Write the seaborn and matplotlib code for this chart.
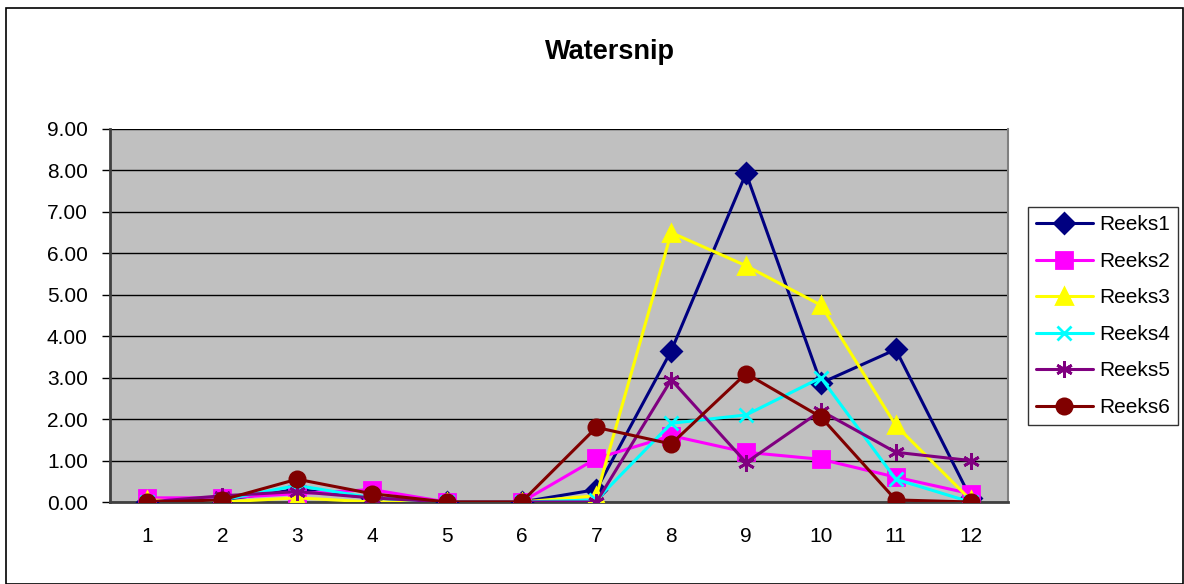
import numpy as np
import pandas as pd
import matplotlib
matplotlib.use('Agg')
import matplotlib.pyplot as plt
import seaborn as sns
from matplotlib.patches import Rectangle
from matplotlib.ticker import FormatStrFormatter, MultipleLocator

# Maanden / categorieen
months = list(range(1, 13))

reeks1 = [0.00, 0.05, 0.30, 0.10, 0.00, 0.00, 0.30, 3.65, 7.93, 2.87, 3.68, 0.10]
reeks2 = [0.10, 0.10, 0.20, 0.30, 0.00, 0.00, 1.05, 1.60, 1.20, 1.03, 0.60, 0.20]
reeks3 = [0.05, 0.00, 0.10, 0.00, 0.00, 0.00, 0.15, 6.50, 5.70, 4.75, 1.85, 0.05]
reeks4 = [0.00, 0.05, 0.40, 0.10, 0.00, 0.00, 0.05, 1.90, 2.10, 3.00, 0.55, 0.00]
reeks5 = [0.00, 0.15, 0.25, 0.10, 0.00, 0.00, 0.00, 2.95, 0.95, 2.20, 1.20, 1.00]
reeks6 = [0.00, 0.05, 0.55, 0.20, 0.00, 0.00, 1.80, 1.40, 3.10, 2.05, 0.05, 0.00]

series_names = ['Reeks1', 'Reeks2', 'Reeks3', 'Reeks4', 'Reeks5', 'Reeks6']
series_values = [reeks1, reeks2, reeks3, reeks4, reeks5, reeks6]
colors = ['#000080', '#FF00FF', '#FFFF00', '#00FFFF', '#800080', '#800000']
markers = ['D', 's', '^', 'x', (6, 2, 0), 'o']
msizes = [10, 11, 12, 10, 12, 11]

sns.set_style('white')
plt.rcParams['font.family'] = ['Liberation Sans', 'DejaVu Sans']
plt.rcParams['text.color'] = 'black'
plt.rcParams['xtick.color'] = 'black'
plt.rcParams['ytick.color'] = 'black'

fig = plt.figure(figsize=(11.84, 5.84), dpi=100)
ax = fig.add_axes([110 / 1184, 1 - 502 / 584, 898 / 1184, 373 / 584])
ax.set_facecolor('#C0C0C0')

for name, vals, col, mk, ms in zip(series_names, series_values, colors, markers, msizes):
    sns.lineplot(x=months, y=vals, ax=ax, color=col, marker=mk, markersize=ms,
                 markeredgecolor=col, markerfacecolor=col, markeredgewidth=2,
                 linewidth=2.2, label=name, zorder=3)

ax.set_xlim(0.5, 12.5)
ax.set_ylim(0, 9)
ax.yaxis.set_major_locator(MultipleLocator(1))
ax.yaxis.set_major_formatter(FormatStrFormatter('%.2f'))
ax.set_xticks(months)
ax.set_xticklabels([str(m) for m in months])
ax.set_xticks(np.arange(0.5, 13, 1), minor=True)
ax.tick_params(axis='x', which='major', length=0, labelsize=15, pad=18, labelcolor='black')
ax.tick_params(axis='x', which='minor', length=6, width=1, color='black', direction='out')
ax.tick_params(axis='y', which='major', length=6, width=1, color='black', direction='out',
               labelsize=15, left=True, pad=10, labelcolor='black')
ax.grid(axis='y', color='black', linewidth=1, zorder=1)
ax.set_axisbelow(True)
ax.set_xlabel('')
ax.set_ylabel('')

for side in ['left', 'bottom']:
    ax.spines[side].set_color('#404040')
    ax.spines[side].set_linewidth(2)
ax.spines['right'].set_color('#808080')
ax.spines['right'].set_linewidth(1.5)
ax.spines['top'].set_visible(False)

fig.text(610 / 1184, 1 - 52 / 584, 'Watersnip', ha='center', va='center',
         fontsize=19.5, fontweight='bold', color='black')

leg = ax.legend(loc='upper left', bbox_to_anchor=(1028 / 1184, 1 - 207 / 584),
                bbox_transform=fig.transFigure, fontsize=15, frameon=True,
                fancybox=False, edgecolor='black', handlelength=2.7,
                borderpad=0.4, labelspacing=0.84, handletextpad=0.3,
                borderaxespad=0)
leg.get_frame().set_linewidth(1)
leg.get_frame().set_facecolor('white')
for txt in leg.get_texts():
    txt.set_color('black')

fig.patches.append(Rectangle((6 / 1184, 0.0), 1 - 7 / 1184, 1 - 8 / 584,
                             transform=fig.transFigure, fill=False,
                             edgecolor='black', linewidth=1.2))

fig.savefig('out.png', dpi=100)
